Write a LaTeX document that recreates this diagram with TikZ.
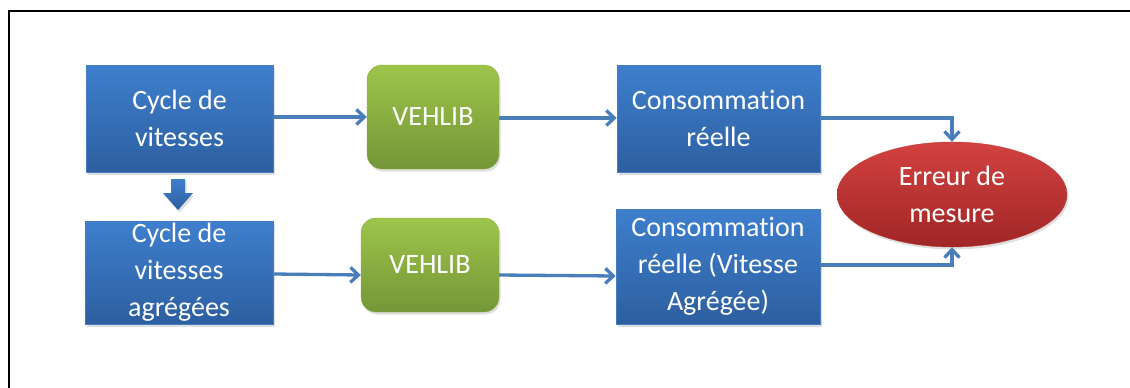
\documentclass[tikz,border=0pt]{standalone}
\usepackage{fontspec}
\setmainfont[Ligatures=NoCommon]{Carlito}
\usetikzlibrary{arrows.meta,shapes.geometric,shadows}
\definecolor{bluetop}{RGB}{62,127,205}
\definecolor{bluebot}{RGB}{45,95,160}
\definecolor{blueedge}{RGB}{70,125,190}
\definecolor{greentop}{RGB}{157,197,74}
\definecolor{greenbot}{RGB}{117,150,56}
\definecolor{redtop}{RGB}{210,66,64}
\definecolor{redbot}{RGB}{160,38,38}
\definecolor{arrblue}{RGB}{74,126,187}
\tikzset{
  lbl/.style={text=white, font=\fontsize{28}{37}\selectfont, align=center, inner sep=0pt},
  shad/.style={drop shadow={opacity=0.25, shadow xshift=1.5pt, shadow yshift=-2.5pt}},
  bluebox/.style={lbl, shad, rectangle, top color=bluetop, bottom color=bluebot, draw=blueedge, line width=0.6pt},
  greenbox/.style={lbl, shad, rectangle, rounded corners=15pt, top color=greentop, bottom color=greenbot, draw=greentop!90!black, line width=0.4pt},
  redell/.style={lbl, shad, ellipse, top color=redtop, bottom color=redbot, draw=redtop!90!black, line width=0.4pt},
  arr/.style={draw=arrblue, line width=3.3pt, -{Straight Barb[length=8pt, width=15pt, line width=3.3pt]}},
}
\begin{document}
\begin{tikzpicture}[x=1pt, y=-1pt]
\useasboundingbox (0,0) rectangle (1130,388);
\fill[white] (0,0) rectangle (1130,388);
\draw[line width=2.4pt, black] (9,388) -- (9,11) -- (1130,11);

\node[bluebox, minimum width=187pt, minimum height=107pt] (b1) at (179.5,118.5) {Cycle de\\vitesses};
\node[bluebox, minimum width=188pt, minimum height=103pt] (b2) at (179,272.5) {Cycle de\\vitesses\\agrégées};
\node[greenbox, minimum width=132pt, minimum height=104pt] (v1) at (433,117) {VEHLIB};
\node[greenbox, minimum width=138pt, minimum height=94pt] (v2) at (430,265) {VEHLIB};
\node[bluebox, minimum width=203pt, minimum height=107pt] (c1) at (718.5,118.5) {Consommation\\réelle};
\node[bluebox, minimum width=204pt, minimum height=115pt] (c2) at (718,266.5) {Consommation\\réelle (Vitesse\\Agrégée)};
\node[redell, minimum width=230pt, minimum height=105pt] (e) at (952,194.5) {Erreur de\\mesure};

% down block arrow
\path[shad, top color=bluetop, bottom color=bluebot]
  (171,179) -- (185,179) -- (185,193) -- (193,193) -- (178,210) -- (163,193) -- (171,193) -- cycle;

\draw[arr] (b1.east |- 0,117) -- (v1.west |- 0,117);
\draw[arr] (b2.east |- 0,274) -- (v2.west |- 0,275);
\draw[arr] (v1.east |- 0,118) -- (c1.west |- 0,118);
\draw[arr] (v2.east |- 0,275) -- (c2.west |- 0,276);
\draw[arr] (c1.east |- 0,118) -| (e.north);
\draw[arr] (c2.east |- 0,265) -| (e.south);
\end{tikzpicture}
\end{document}
